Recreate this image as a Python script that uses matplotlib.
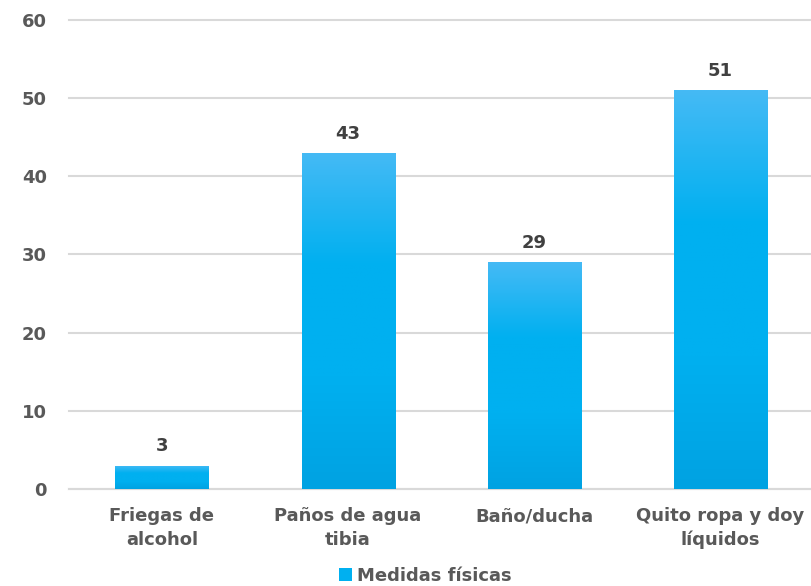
import matplotlib.pyplot as plt
import numpy as np
from matplotlib.colors import LinearSegmentedColormap
from matplotlib.transforms import blended_transform_factory, offset_copy

categories = ['Friegas de\nalcohol', 'Paños de agua\ntibia', 'Baño/ducha', 'Quito ropa y doy\nlíquidos']
values = [3, 43, 29, 51]
series_name = 'Medidas físicas'

plt.rcParams['font.family'] = ['DejaVu Sans']
text_gray = '#595959'

fig = plt.figure(figsize=(8.11, 5.86), dpi=100)
ax = fig.add_axes([0.085, 0.1655, 0.918, 0.8005])

x = np.arange(len(categories))
bars = ax.bar(x, values, width=0.5, color='#00B0F0', zorder=2, label=series_name)

# gradient fill: lighter at top, darker at bottom
grad = LinearSegmentedColormap.from_list('g', ['#00A2E2', '#00B0F0', '#00B0F0', '#45BAF5'])
for b in bars:
    x0, y0 = b.get_x(), b.get_y()
    w, h = b.get_width(), b.get_height()
    im = ax.imshow(np.linspace(0, 1, 256).reshape(-1, 1), cmap=grad, origin='lower',
                   extent=[x0, x0 + w, y0, y0 + h], aspect='auto', zorder=3)
    im.set_clip_path(b)
    ax.text(x0 + w / 2, y0 + h + 1.3, str(int(h)), ha='center', va='bottom',
            fontsize=13, fontweight='bold', color='#404040', zorder=4)

ax.set_xlim(-0.5, 3.5)
ax.set_ylim(0, 60)
ax.set_yticks(range(0, 61, 10))
ax.set_xticks(x)
ax.set_xticklabels([])
# category labels, centred lines
trans = offset_copy(blended_transform_factory(ax.transData, ax.transAxes), fig=fig, x=0, y=-13, units='points')
for xi, cat in zip(x, categories):
    ax.text(xi, 0, cat, transform=trans, ha='center', va='top', ma='center',
            fontsize=13, fontweight='bold', color=text_gray, linespacing=1.4)
ax.tick_params(axis='y', labelsize=13, labelcolor=text_gray, length=0, pad=16)
ax.tick_params(axis='x', length=0)
for lbl in ax.get_yticklabels():
    lbl.set_fontweight('bold')
ax.grid(axis='y', color='#D9D9D9', linewidth=1.5, zorder=0)
for gl in ax.get_ygridlines():
    gl.set_clip_on(False)
for s in ['top', 'right', 'left']:
    ax.spines[s].set_visible(False)
ax.spines['bottom'].set_color('#D9D9D9')
ax.spines['bottom'].set_linewidth(1.5)

leg = fig.legend(handles=[bars], labels=[series_name], loc='lower center',
                 bbox_to_anchor=(0.525, -0.026), frameon=False, fontsize=13,
                 handlelength=0.7, handleheight=0.7, handletextpad=0.3)
for t in leg.get_texts():
    t.set_fontweight('bold')
    t.set_color(text_gray)

fig.savefig('out.png', dpi=100)
